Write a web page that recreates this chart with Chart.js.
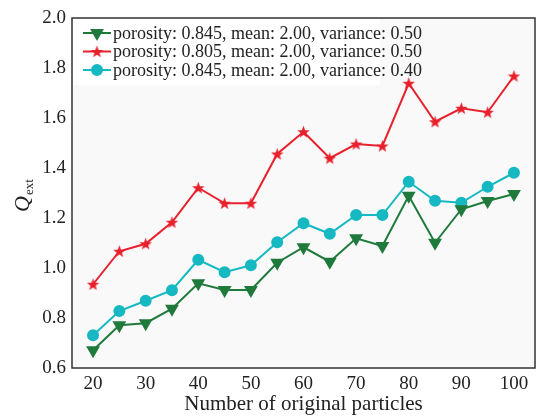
<!DOCTYPE html>
<html>
<head>
<meta charset="utf-8">
<script src="https://cdn.jsdelivr.net/npm/chart.js@4.4.0/dist/chart.umd.min.js"></script>
<style>
  html, body { margin: 0; padding: 0; background: #fff; }
  #wrap { width: 543px; height: 417px; position: relative; }
</style>
</head>
<body>
<div id="wrap"><canvas id="qChart"></canvas></div>
<script>
// number of original particles (x)
const particles = [20, 25, 30, 35, 40, 45, 50, 55, 60, 65, 70, 75, 80, 85, 90, 95, 100];
// Q_ext per series
const qP845V50 = [0.671, 0.771, 0.779, 0.837, 0.939, 0.912, 0.912, 1.021, 1.083, 1.025, 1.119, 1.088, 1.289, 1.101, 1.235, 1.268, 1.296];
const qP805V50 = [0.935, 1.067, 1.097, 1.183, 1.321, 1.259, 1.259, 1.456, 1.545, 1.439, 1.496, 1.488, 1.739, 1.585, 1.639, 1.623, 1.768];
const qP845V40 = [0.731, 0.828, 0.869, 0.911, 1.033, 0.983, 1.011, 1.103, 1.179, 1.137, 1.212, 1.212, 1.345, 1.269, 1.261, 1.325, 1.381];
const seriesLabels = [
  'porosity: 0.845, mean: 2.00, variance: 0.50',
  'porosity: 0.805, mean: 2.00, variance: 0.50',
  'porosity: 0.845, mean: 2.00, variance: 0.40',
];
const xTicks = [20, 30, 40, 50, 60, 70, 80, 90, 100];
const yTicks = [0.6, 0.8, 1.0, 1.2, 1.4, 1.6, 1.8, 2.0];

const colors = {
  green: '#1f7a3c',
  red: '#e8202c',
  cyan: '#16b8c2',
  frame: '#333',
  text: '#222',
  plotBg: '#f9f9f9',
};
const serif = '"Liberation Serif", "Times New Roman", serif';

// filled five-point star marker
function makeStar(size, color) {
  const c = document.createElement('canvas');
  c.width = size; c.height = size;
  const g = c.getContext('2d');
  const cx = size / 2, cy = size / 2, ro = size / 2, ri = ro * 0.42;
  g.beginPath();
  for (let i = 0; i < 10; i++) {
    const r = i % 2 ? ri : ro;
    const a = -Math.PI / 2 + i * Math.PI / 5;
    g.lineTo(cx + r * Math.cos(a), cy + r * Math.sin(a) + 0.6);
  }
  g.closePath();
  g.fillStyle = color;
  g.fill();
  return c;
}
const starMark = makeStar(13, colors.red);

function toPoints(ys) {
  return particles.map((x, i) => ({ x, y: ys[i] }));
}

const plotDecor = {
  id: 'plotDecor',
  beforeDatasetsDraw(chart) {
    const { ctx, chartArea: a } = chart;
    ctx.save();
    ctx.fillStyle = colors.plotBg;
    ctx.fillRect(a.left, a.top, a.right - a.left, a.bottom - a.top);
    // legend box (behind the lines)
    ctx.fillStyle = '#fff';
    ctx.fillRect(a.left + 1, a.top + 1, 307, 66);
    ctx.restore();
  },
  afterDatasetsDraw(chart) {
    const { ctx, chartArea: a } = chart;
    ctx.save();
    ctx.font = '18px ' + serif;
    ctx.textBaseline = 'middle';
    chart.data.datasets.forEach((ds, i) => {
      const y = a.top + 15 + i * 18.5;
      const x0 = a.left + 11, x1 = a.left + 39;
      ctx.strokeStyle = ds.borderColor;
      ctx.lineWidth = 2;
      ctx.beginPath(); ctx.moveTo(x0, y); ctx.lineTo(x1, y); ctx.stroke();
      ctx.fillStyle = ds.pointBackgroundColor;
      ctx.strokeStyle = ds.pointBorderColor;
      Chart.helpers.drawPoint(ctx, {
        pointStyle: ds.pointStyle, radius: ds.pointRadius,
        rotation: ds.pointRotation || 0, borderWidth: 1,
      }, (x0 + x1) / 2, y);
      ctx.fillStyle = colors.text;
      ctx.fillText(ds.label, x1 + 2, y + 1);
    });
    // frame
    ctx.strokeStyle = colors.frame;
    ctx.lineWidth = 1.5;
    ctx.strokeRect(a.left, a.top, a.right - a.left, a.bottom - a.top);
    // y title: Q_ext
    ctx.translate(22, 196);
    ctx.rotate(-Math.PI / 2);
    ctx.fillStyle = colors.text;
    ctx.textBaseline = 'alphabetic';
    ctx.font = 'italic 22px ' + serif;
    const wQ = ctx.measureText('Q').width;
    ctx.font = '13px ' + serif;
    const wE = ctx.measureText('ext').width;
    const start = -(wQ + wE) / 2;
    ctx.font = 'italic 22px ' + serif;
    ctx.fillText('Q', start, 7);
    ctx.font = '13px ' + serif;
    ctx.fillText('ext', start + wQ + 1, 11);
    ctx.restore();
  },
};

new Chart(document.getElementById('qChart'), {
  type: 'line',
  data: {
    datasets: [
      {
        label: seriesLabels[0],
        data: toPoints(qP845V50),
        borderColor: colors.green,
        pointBackgroundColor: colors.green,
        pointBorderColor: colors.green,
        pointStyle: 'triangle',
        pointRotation: 180,
        pointRadius: 6,
        borderWidth: 2,
      },
      {
        label: seriesLabels[1],
        data: toPoints(qP805V50),
        borderColor: colors.red,
        pointBackgroundColor: colors.red,
        pointBorderColor: colors.red,
        pointStyle: starMark,
        pointRadius: 6,
        borderWidth: 2,
      },
      {
        label: seriesLabels[2],
        data: toPoints(qP845V40),
        borderColor: colors.cyan,
        pointBackgroundColor: colors.cyan,
        pointBorderColor: colors.cyan,
        pointStyle: 'circle',
        pointRadius: 5,
        borderWidth: 2,
      },
    ],
  },
  options: {
    responsive: true,
    maintainAspectRatio: false,
    animation: false,
    layout: { padding: { top: 18, right: 2, left: 0, bottom: 0 } },
    plugins: { legend: { display: false }, tooltip: { enabled: false } },
    scales: {
      x: {
        type: 'linear',
        min: 16,
        max: 104,
        afterBuildTicks: (s) => { s.ticks = xTicks.map((v) => ({ value: v })); },
        afterFit: (s) => { s.height = 49; },
        grid: { display: false, drawTicks: false },
        border: { display: false },
        ticks: { color: colors.text, font: { family: serif, size: 19 }, padding: 5, maxRotation: 0 },
        title: { display: true, text: 'Number of original particles', color: colors.text, font: { family: serif, size: 21 }, padding: { top: 3, bottom: 0 } },
      },
      y: {
        min: 0.6,
        max: 2.0,
        afterBuildTicks: (s) => { s.ticks = yTicks.map((v) => ({ value: v })); },
        afterFit: (s) => { s.width = 72; },
        grid: { display: false, drawTicks: false },
        border: { display: false },
        ticks: { color: colors.text, font: { family: serif, size: 19 }, padding: 6, callback: (v) => v.toFixed(1) },
      },
    },
  },
  plugins: [plotDecor],
});
</script>
</body>
</html>
